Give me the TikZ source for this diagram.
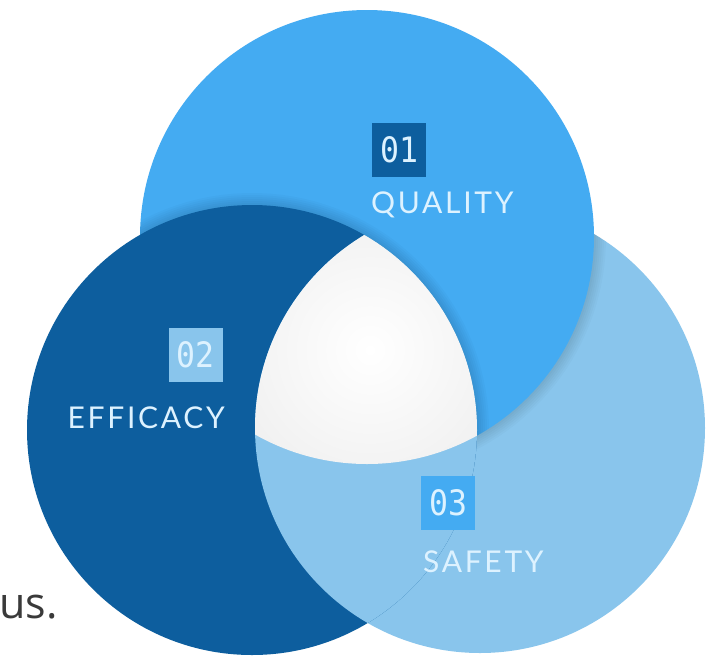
\documentclass[tikz,border=0pt]{standalone}
\usepackage{fontspec}
\setmainfont{Lato}[LetterSpace=9]
\newfontfamily\numfont[FakeStretch=0.9]{DejaVu Sans Mono}
\newfontfamily\notefont{Open Sans}
\definecolor{qualityblue}{HTML}{44ABF2}
\definecolor{efficacyblue}{HTML}{0D5E9E}
\definecolor{safetyblue}{HTML}{89C5EC}
\definecolor{labeltext}{HTML}{DDF2FF}
\definecolor{notegray}{HTML}{3A3A3A}
\tikzset{
  numbox/.style={minimum size=54pt, inner sep=0pt, text=labeltext,
    font=\numfont\fontsize{35}{35}\selectfont},
  caption/.style={inner sep=0pt, text=labeltext,
    font=\fontsize{30}{30}\selectfont},
  softedge/.style={draw=black, opacity=0.018}
}
\begin{document}
\begin{tikzpicture}[x=1pt, y=-1pt]
        \useasboundingbox (0, 0) rectangle (720, 657);
        \fill[white] (0, 0) rectangle (720, 657);
        % the three circles, each with a soft shadow on the one below
        \fill[safetyblue] (480, 428) circle (225pt);
        \begin{scope}
            \clip (480, 428) circle (225pt);
            \foreach \w in {4, 8, ..., 24}
                \draw[softedge, line width=\w pt] (367, 237) circle (227pt);
        \end{scope}
        \fill[qualityblue] (367, 237) circle (227pt);
        \begin{scope}
            \clip (367, 237) circle (227pt);
            \foreach \w in {4, 8, ..., 24}
                \draw[softedge, line width=\w pt] (252, 430) circle (225pt);
        \end{scope}
        \fill[efficacyblue] (252, 430) circle (225pt);
        \begin{scope}
            \clip (252, 430) circle (225pt);
            \fill[safetyblue] (480, 428) circle (225pt);
        \end{scope}
        % common part
        \begin{scope}
            \clip (252, 430) circle (225pt);
            \clip (480, 428) circle (225pt);
            \clip (367, 237) circle (227pt);
            \shade[inner color=white, outer color=black!6] (370, 350) circle (150pt);
        \end{scope}
        % labels
        \node[numbox, fill=efficacyblue] (num1) at (399, 150) {01};
        \node[caption, anchor=base west] (quality) at (371, 213) {QUALITY};
        \node[numbox, fill=safetyblue] (num2) at (195.5, 354.5) {02};
        \node[caption, anchor=base east] (efficacy) at (225, 428) {EFFICACY};
        \node[numbox, fill=qualityblue] (num3) at (448, 503) {03};
        \node[caption, anchor=base west] (safety) at (423, 572) {SAFETY};
        \node[inner sep=0pt, anchor=base west, text=notegray,
            font=\notefont\fontsize{43}{43}\selectfont] (note) at (-1, 618) {us.};
    \end{tikzpicture}
\end{document}
